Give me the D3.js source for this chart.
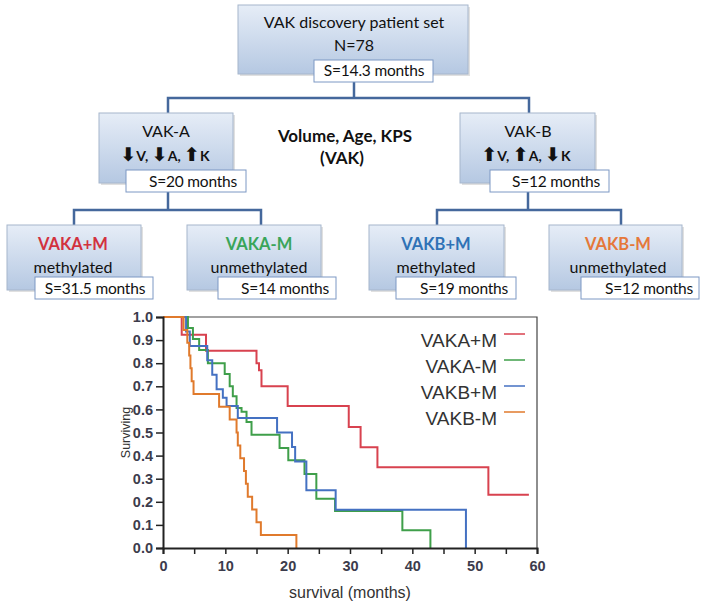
<!DOCTYPE html>
<html>
<head>
<meta charset="utf-8">
<script src="https://cdn.jsdelivr.net/npm/d3@7"></script>
<style>
  html, body { margin: 0; padding: 0; background: #fff; }
  svg { display: block; }
</style>
</head>
<body>
<svg id="chart" width="706" height="606"></svg>
<script>
// ---------------- DATA ----------------
const seriesNames = ["VAKA+M", "VAKA-M", "VAKB+M", "VAKB-M"];
// Kaplan-Meier steps: [months, surviving fraction]
const vakaPlusM = [[0,1],[3.0,0.923],[6.9,0.854],[15.0,0.80],[15.4,0.77],[15.8,0.70],[20.0,0.615],[29.8,0.524],[31.7,0.436],[34.4,0.35],[52.2,0.231],[58.7,0.231]];
const vakaMinusM = [[0,1],[4.0,0.952],[4.8,0.905],[5.8,0.857],[7.2,0.80],[9.9,0.753],[10.7,0.70],[11.2,0.657],[11.8,0.606],[12.6,0.59],[13.4,0.545],[14.2,0.49],[18.7,0.433],[20.1,0.38],[22.7,0.32],[24.6,0.213],[27.6,0.16],[38.4,0.077],[42.9,0]];
const vakbPlusM = [[0,1],[3.7,0.9375],[4.3,0.875],[7.1,0.8125],[7.9,0.75],[8.6,0.6875],[9.6,0.65],[10.2,0.615],[12.0,0.563],[18.3,0.5],[20.7,0.437],[21.2,0.375],[23.0,0.25],[27.7,0.166],[48.6,0]];
const vakbMinusM = [[0,1],[3.3,0.944],[3.9,0.889],[4.2,0.833],[4.4,0.778],[4.6,0.722],[4.9,0.667],[9.0,0.611],[10.7,0.556],[11.8,0.5],[12.0,0.444],[12.4,0.389],[13.0,0.333],[13.3,0.278],[13.6,0.222],[14.3,0.167],[15.0,0.111],[15.7,0.056],[21.4,0]];
const seriesValues = [vakaPlusM, vakaMinusM, vakbPlusM, vakbMinusM];
const xTickValues = [0, 5, 10, 15, 20, 25, 30, 35, 40, 45, 50, 55, 60];
const xTickLabels = ["0", "", "10", "", "20", "", "30", "", "40", "", "50", "", "60"];
const yTickValues = [0, 0.1, 0.2, 0.3, 0.4, 0.5, 0.6, 0.7, 0.8, 0.9, 1.0];
const yTickLabels = ["0.0","0.1","0.2","0.3","0.4","0.5","0.6","0.7","0.8","0.9","1.0"];
const xAxisTitle = "survival (months)";
const yAxisTitle = "Surviving";

// Flow diagram text
const rootLines = ["VAK discovery patient set", "N=78"];
const rootMedian = "S=14.3 months";
const middleLines = ["Volume, Age, KPS", "(VAK)"];
const groupNames = ["VAK-A", "VAK-B"];
const groupArrows = [[["⬇","V, "],["⬇","A, "],["⬆","K"]], [["⬆","V, "],["⬆","A, "],["⬇","K"]]];
const groupMedians = ["S=20 months", "S=12 months"];
const leafNames = ["VAKA+M", "VAKA-M", "VAKB+M", "VAKB-M"];
const leafStatus = ["methylated", "unmethylated", "methylated", "unmethylated"];
const leafMedians = ["S=31.5 months", "S=14 months", "S=19 months", "S=12 months"];

// ---------------- STYLE ----------------
const curveColors = ["#d8424f", "#3f9f4a", "#4471c2", "#e07a2c"];
const leafColors = ["#d2323e", "#3aa55a", "#2f72b6", "#e5783a"];
const connColor = "#45689c";

const svg = d3.select("#chart");
const defs = svg.append("defs");
const grad = defs.append("linearGradient").attr("id", "boxGrad").attr("x1", 0).attr("y1", 0).attr("x2", 0).attr("y2", 1);
grad.append("stop").attr("offset", "0%").attr("stop-color", "#e6edf7");
grad.append("stop").attr("offset", "100%").attr("stop-color", "#b5c8e2");

const diag = svg.append("g").attr("font-family", "Lato, 'Open Sans', sans-serif");

function box(x, y, w, h) {
  diag.append("rect").attr("x", x + 2).attr("y", y + 2).attr("width", w).attr("height", h)
    .attr("fill", "#000").attr("opacity", 0.12);
  diag.append("rect").attr("x", x).attr("y", y).attr("width", w).attr("height", h)
    .attr("fill", "url(#boxGrad)").attr("stroke", "#a6b6cc").attr("stroke-width", 1);
}
function sbox(x, y, w, h, label, cx, by) {
  diag.append("rect").attr("x", x).attr("y", y).attr("width", w).attr("height", h)
    .attr("fill", "#fff").attr("stroke", "#7c98c4").attr("stroke-width", 1);
  diag.append("text").attr("x", cx).attr("y", by).attr("text-anchor", "middle")
    .attr("font-size", 15.5).attr("fill", "#111").attr("letter-spacing", -0.2).text(label);
}
function conn(points) {
  diag.append("path").attr("d", d3.line()(points)).attr("fill", "none")
    .attr("stroke", connColor).attr("stroke-width", 2.5);
}

// connectors (drawn first)
conn([[354, 82], [354, 98]]);
conn([[168, 113], [168, 98], [529, 98], [529, 113]]);
conn([[168, 192], [168, 210]]);
conn([[74, 225], [74, 210], [261, 210], [261, 225]]);
conn([[528, 192], [528, 210]]);
conn([[437, 225], [437, 210], [621, 210], [621, 225]]);

// root
box(238, 5, 230, 69);
diag.append("text").attr("x", 354).attr("y", 28).attr("text-anchor", "middle").attr("font-size", 16).attr("fill", "#111").text(rootLines[0]);
diag.append("text").attr("x", 354).attr("y", 51).attr("text-anchor", "middle").attr("font-size", 16).attr("fill", "#111").text(rootLines[1]);
sbox(314, 60, 119, 22, rootMedian, 374, 76);

// middle label
diag.append("text").attr("x", 345).attr("y", 142).attr("text-anchor", "middle").attr("font-size", 17).attr("font-weight", "bold").attr("fill", "#111").text(middleLines[0]);
diag.append("text").attr("x", 342).attr("y", 164).attr("text-anchor", "middle").attr("font-size", 17).attr("font-weight", "bold").attr("fill", "#111").text(middleLines[1]);

// groups
const groupGeom = [
  {x: 99, w: 134, cx: 166, ax: 165, sx: 126, sw: 120, scx: 193},
  {x: 460, w: 135, cx: 528, ax: 526, sx: 490, sw: 119, scx: 556}
];
groupGeom.forEach((g, i) => {
  box(g.x, 113, g.w, 70);
  diag.append("text").attr("x", g.cx).attr("y", 137).attr("text-anchor", "middle").attr("font-size", 16).attr("fill", "#111").text(groupNames[i]);
  const t = diag.append("text").attr("x", g.ax).attr("y", 161).attr("text-anchor", "middle").attr("font-weight", "bold").attr("fill", "#111");
  groupArrows[i].forEach(([arrow, letter]) => {
    t.append("tspan").attr("font-family", "'DejaVu Sans', sans-serif").attr("font-size", 19).text(arrow);
    t.append("tspan").attr("font-size", 14).text(letter);
  });
  sbox(g.sx, 170, g.sw, 22, groupMedians[i], g.scx, 187);
});

// leaves
const leafGeom = [
  {x: 7, w: 134, cx: 73, sx: 35, sw: 118, scx: 95},
  {x: 187, w: 134, cx: 259, sx: 218, sw: 118, scx: 285},
  {x: 369, w: 135, cx: 436, sx: 396, sw: 120, scx: 464},
  {x: 549, w: 133, cx: 618, sx: 581, sw: 118, scx: 649}
];
leafGeom.forEach((g, i) => {
  box(g.x, 225, g.w, 65);
  diag.append("text").attr("x", g.cx).attr("y", 250).attr("text-anchor", "middle").attr("font-size", 16.5).attr("font-weight", "bold").attr("fill", leafColors[i]).text(leafNames[i]);
  diag.append("text").attr("x", g.cx).attr("y", 273).attr("text-anchor", "middle").attr("font-size", 16).attr("fill", "#111").text(leafStatus[i]);
  sbox(g.sx, 277, g.sw, 22, leafMedians[i], g.scx, 294);
});

// ---------------- KM CHART ----------------
const x = d3.scaleLinear().domain([0, 60]).range([163, 537]);
const y = d3.scaleLinear().domain([0, 1]).range([548, 317]);
const chart = svg.append("g").attr("font-family", "'Liberation Sans', Arial, sans-serif");

// frame (top & right)
chart.append("path").attr("d", `M${x(0)},${y(1)}H${x(60)}V${y(0)}`).attr("fill", "none").attr("stroke", "#444").attr("stroke-width", 1.2);

// curves
const line = d3.line().x(d => x(d[0])).y(d => y(d[1])).curve(d3.curveStepAfter);
seriesValues.forEach((s, i) => {
  chart.append("path").datum(s).attr("d", line).attr("fill", "none")
    .attr("stroke", curveColors[i]).attr("stroke-width", 2).attr("stroke-linejoin", "miter");
});

// axes
const xAxis = d3.axisBottom(x).tickValues(xTickValues).tickSize(6).tickPadding(7)
  .tickFormat((d, i) => xTickLabels[i]);
const gx = chart.append("g").attr("transform", `translate(0,${y(0)})`).call(xAxis);
const yAxis = d3.axisLeft(y).tickValues(yTickValues).tickSize(7).tickPadding(3)
  .tickFormat((d, i) => yTickLabels[i]);
const gy = chart.append("g").attr("transform", `translate(${x(0)},0)`).call(yAxis);
[gx, gy].forEach(g => {
  g.select(".domain").attr("stroke", "#222").attr("stroke-width", 2);
  g.selectAll(".tick line").attr("stroke", "#222").attr("stroke-width", 1.5);
  g.selectAll(".tick text").attr("font-size", 14.5).attr("font-weight", "bold").attr("fill", "#3c3c4c")
    .attr("font-family", "'Liberation Sans', Arial, sans-serif");
});

chart.append("text").attr("x", x(30)).attr("y", 598).attr("text-anchor", "middle")
  .attr("font-size", 16).attr("fill", "#333").text(xAxisTitle);
chart.append("text").attr("transform", `translate(130,${y(0.5)}) rotate(-90)`).attr("text-anchor", "middle")
  .attr("font-size", 12.5).attr("fill", "#333").text(yAxisTitle);

// legend
const legendRows = [334, 360, 386, 412];
seriesNames.forEach((n, i) => {
  chart.append("text").attr("x", 497).attr("y", legendRows[i] + 13).attr("text-anchor", "end")
    .attr("font-size", 19).attr("fill", "#333").text(n);
  chart.append("line").attr("x1", 504).attr("x2", 525).attr("y1", legendRows[i]).attr("y2", legendRows[i])
    .attr("stroke", curveColors[i]).attr("stroke-width", 1.5);
});
</script>
</body>
</html>
